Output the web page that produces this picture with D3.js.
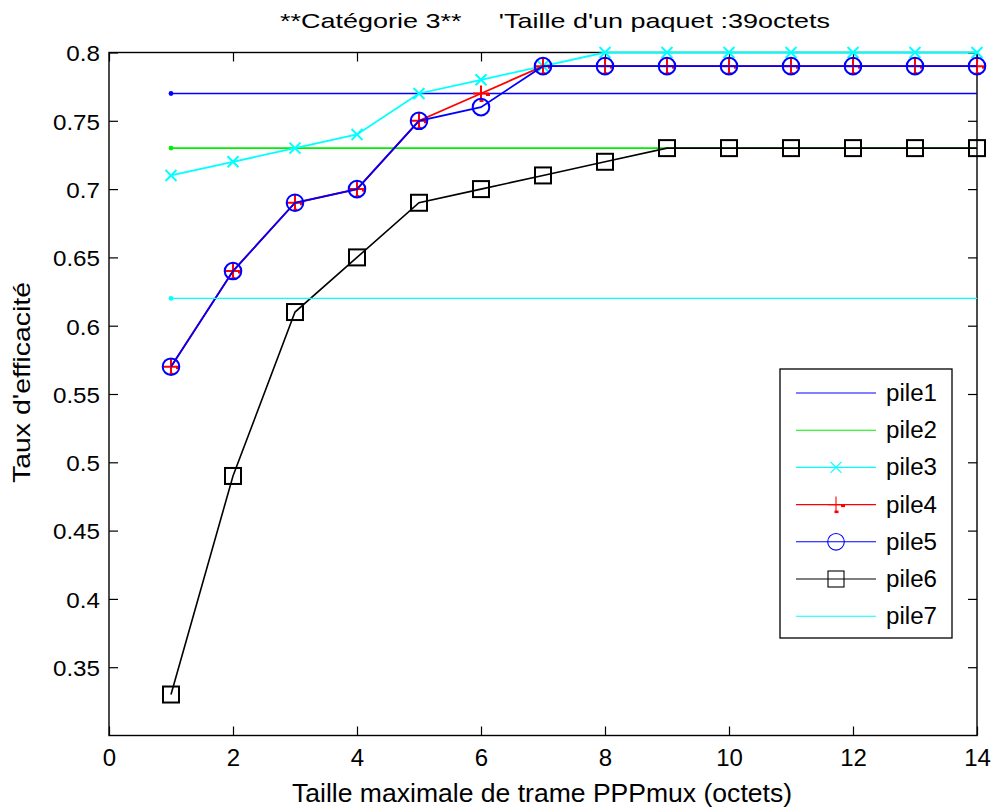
<!DOCTYPE html>
<html><head><meta charset="utf-8">
<script src="https://cdn.jsdelivr.net/npm/d3@7"></script>
<style>body{margin:0;background:#fff}svg{display:block;font-family:"Liberation Sans",Arial,sans-serif}</style>
</head><body><svg id="c" width="996" height="809"></svg>
<script>
const xs = [1,2,3,4,5,6,7,8,9,10,11,12,13,14];
const pile1 = [0.77,0.77,0.77,0.77,0.77,0.77,0.77,0.77,0.77,0.77,0.77,0.77,0.77,0.77];
const pile2 = [0.73,0.73,0.73,0.73,0.73,0.73,0.73,0.73,0.73,0.73,0.73,0.73,0.73,0.73];
const pile3 = [0.71,0.72,0.73,0.74,0.77,0.78,0.79,0.80,0.80,0.80,0.80,0.80,0.80,0.80];
const pile4 = [0.57,0.64,0.69,0.70,0.75,0.77,0.79,0.79,0.79,0.79,0.79,0.79,0.79,0.79];
const pile5 = [0.57,0.64,0.69,0.70,0.75,0.76,0.79,0.79,0.79,0.79,0.79,0.79,0.79,0.79];
const pile6 = [0.33,0.49,0.61,0.65,0.69,0.70,0.71,0.72,0.73,0.73,0.73,0.73,0.73,0.73];
const pile7 = [0.62,0.62,0.62,0.62,0.62,0.62,0.62,0.62,0.62,0.62,0.62,0.62,0.62,0.62];
const xTicks = [0,2,4,6,8,10,12,14];
const yTicks = [0.35,0.4,0.45,0.5,0.55,0.6,0.65,0.7,0.75,0.8];
const seriesNames = ["pile1","pile2","pile3","pile4","pile5","pile6","pile7"];
const title = "**Catégorie 3**     'Taille d'un paquet :39octets";
const xLabel = "Taille maximale de trame PPPmux (octets)";
const yLabel = "Taux d'efficacité";

const series = [
  {name:seriesNames[0], values:pile1, color:"#0000ff", marker:"dotstart", w:1.3},
  {name:seriesNames[1], values:pile2, color:"#00ee00", marker:"dotstart", w:1.6},
  {name:seriesNames[2], values:pile3, color:"#00ffff", marker:"x", w:1.8},
  {name:seriesNames[3], values:pile4, color:"#ff0000", marker:"plus", w:1.8},
  {name:seriesNames[4], values:pile5, color:"#0000ff", marker:"circle", w:1.8},
  {name:seriesNames[5], values:pile6, color:"#000000", marker:"square", w:1.6},
  {name:seriesNames[6], values:pile7, color:"#00ffff", marker:"dotstart", w:1.3}
];

const L=109, R=977, T=52.5, B=735.5;
const svg = d3.select("#c");
const x = d3.scaleLinear().domain([0,14]).range([L,R]);
const y = d3.scaleLinear().domain([0.3,0.8]).range([B,T]);

// axes
const ax = svg.append("g").attr("transform",`translate(0,${B})`)
  .call(d3.axisBottom(x).tickValues(xTicks).tickSize(-9).tickPadding(14).tickFormat(d3.format("d")));
const ay = svg.append("g").attr("transform",`translate(${L},0)`)
  .call(d3.axisLeft(y).tickValues(yTicks).tickSize(-9).tickPadding(9).tickFormat(d=>String(+d.toFixed(2))));
const axT = svg.append("g").attr("transform",`translate(0,${T})`)
  .call(d3.axisTop(x).tickValues(xTicks).tickSize(-9).tickFormat(""));
const ayR = svg.append("g").attr("transform",`translate(${R},0)`)
  .call(d3.axisRight(y).tickValues(yTicks).tickSize(-9).tickFormat(""));
[ax,ay,axT,ayR].forEach(g=>{
  g.select(".domain").remove();
  g.selectAll("line").attr("stroke","#000").attr("stroke-width",1.2);
  g.selectAll("text").attr("fill","#000").attr("font-family","Liberation Sans, Arial, sans-serif");
});
ax.selectAll("text").attr("font-size",24).attr("dy","0.7em");
ay.selectAll("text").attr("font-size",22).attr("dy","0.38em")
  .attr("x",-9/1.1).attr("transform","scale(1.1,1)");

// box
svg.append("rect").attr("x",L).attr("y",T).attr("width",R-L).attr("height",B-T)
  .attr("fill","none").attr("stroke","#000").attr("stroke-width",1.4);

const line = d3.line().x((d,i)=>x(xs[i])).y(d=>y(d));
function drawMarker(g, type, cx, cy, color, sw){
  if(type==="x"){
    const s=5.5;
    g.append("path").attr("d",`M${cx-s},${cy-s}L${cx+s},${cy+s}M${cx-s},${cy+s}L${cx+s},${cy-s}`)
      .attr("stroke",color).attr("stroke-width",sw).attr("fill","none");
  } else if(type==="plus"){
    const s=8;
    g.append("path").attr("d",`M${cx-s},${cy}L${cx+s},${cy}M${cx},${cy-s}L${cx},${cy+s}`)
      .attr("stroke",color).attr("stroke-width",sw).attr("fill","none");
    g.append("rect").attr("x",cx+5).attr("y",cy).attr("width",4).attr("height",2.5).attr("fill",color);
    g.append("rect").attr("x",cx-1.5).attr("y",cy+6).attr("width",4).attr("height",2.5).attr("fill",color);
  } else if(type==="circle"){
    g.append("circle").attr("cx",cx).attr("cy",cy).attr("r",8.3)
      .attr("stroke",color).attr("stroke-width",sw).attr("fill","none");
  } else if(type==="square"){
    g.append("rect").attr("x",cx-8).attr("y",cy-8).attr("width",16).attr("height",16)
      .attr("stroke",color).attr("stroke-width",sw).attr("fill","none");
  }
}

const plot = svg.append("g");
series.forEach(s=>{
  const g = plot.append("g");
  g.append("path").attr("d",line(s.values)).attr("fill","none").attr("stroke",s.color).attr("stroke-width",s.w);
  if(s.marker==="dotstart"){
    g.append("circle").attr("cx",x(xs[0])).attr("cy",y(s.values[0])).attr("r",2.4).attr("fill",s.color);
  } else {
    s.values.forEach((v,i)=>drawMarker(g,s.marker,x(xs[i]),y(v),s.color,2));
  }
});

// legend
const lg = svg.append("g");
lg.append("rect").attr("x",780).attr("y",369).attr("width",172).attr("height",269)
  .attr("fill","#fff").attr("stroke","#000").attr("stroke-width",1.3);
series.forEach((s,i)=>{
  const yy = 393 + i*37.2;
  lg.append("line").attr("x1",796).attr("x2",876).attr("y1",yy).attr("y2",yy)
    .attr("stroke",s.color).attr("stroke-width",1.1);
  if(s.marker!=="dotstart") drawMarker(lg, s.marker, 836, yy, s.color, 1.1);
  lg.append("text").attr("x",886).attr("y",yy+8).attr("font-size",23)
    .attr("textLength",51).attr("lengthAdjust","spacingAndGlyphs").attr("fill","#000").text(s.name);
});

svg.append("text").attr("x",280).attr("y",28).attr("font-size",21)
  .attr("textLength",550).attr("lengthAdjust","spacingAndGlyphs")
  .attr("xml:space","preserve").style("white-space","pre").text(title);
svg.append("text").attr("x",292).attr("y",802).attr("font-size",25)
  .attr("textLength",500).attr("lengthAdjust","spacingAndGlyphs").text(xLabel);
svg.append("text").attr("transform","translate(30,483) rotate(-90)").attr("font-size",24)
  .attr("textLength",201).attr("lengthAdjust","spacingAndGlyphs").text(yLabel);
</script></body></html>
